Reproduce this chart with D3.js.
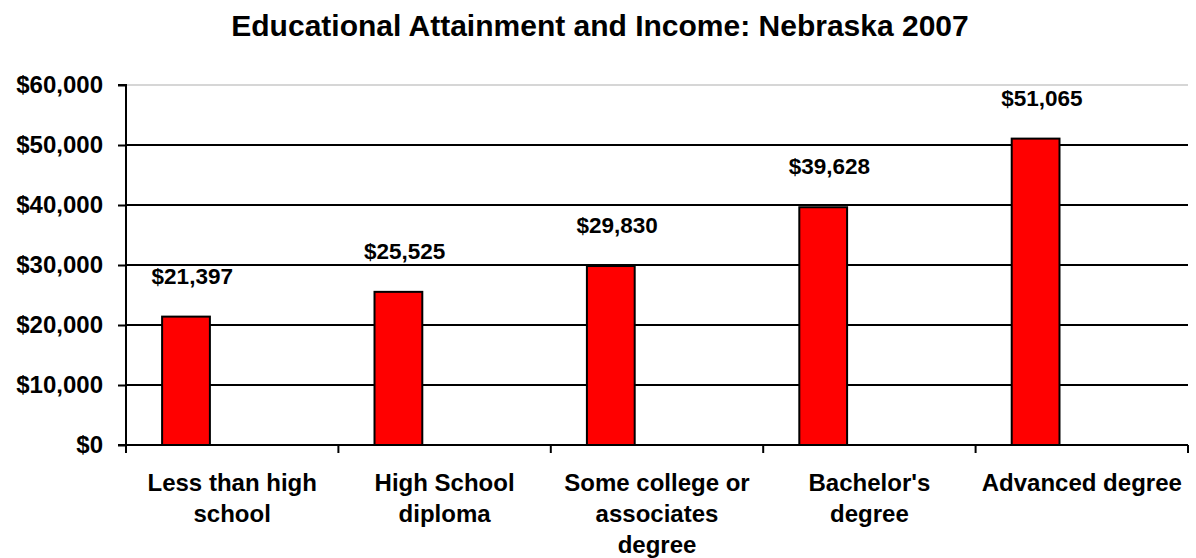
<!DOCTYPE html>
<html>
<head>
<meta charset="utf-8">
<script src="https://cdn.jsdelivr.net/npm/d3@7"></script>
<style>
  body { margin: 0; background: #fff; }
  text { font-family: "Liberation Sans", Arial, sans-serif; font-weight: bold; }
</style>
</head>
<body>
<svg id="chart" width="1196" height="558"></svg>
<script>
// data
let categories = [
    ["Less than high", "school"],
    ["High School", "diploma"],
    ["Some college or", "associates", "degree"],
    ["Bachelor's", "degree"],
    ["Advanced degree"]
];
let incomes = [21397, 25525, 29830, 39628, 51065];
let yTicks = [0, 10000, 20000, 30000, 40000, 50000, 60000];

let W = 1196, H = 558;
let margin = {left: 126, right: 8, top: 85, bottom: 113};
let svg = d3.select('#chart');

let x = d3.scaleBand()
    .domain(d3.range(incomes.length))
    .range([margin.left, W - margin.right]);
let y = d3.scaleLinear()
    .domain([0, 60000])
    .range([H - margin.bottom, margin.top]);

let money = d3.format('$,');

// title
svg.append('text')
    .attr('x', 600).attr('y', 36)
    .attr('text-anchor', 'middle')
    .style('font-size', '30px')
    .text('Educational Attainment and Income: Nebraska 2007');

// top border of plot (light)
svg.append('line')
    .attr('x1', margin.left).attr('x2', W - margin.right)
    .attr('y1', y(60000)).attr('y2', y(60000))
    .attr('stroke', '#c8c8c8').attr('stroke-width', 1.5);

// gridlines
svg.append('g').selectAll('line')
    .data(yTicks.filter(d => d > 0 && d < 60000))
    .enter().append('line')
    .attr('x1', margin.left).attr('x2', W - margin.right)
    .attr('y1', d => y(d)).attr('y2', d => y(d))
    .attr('stroke', '#000').attr('stroke-width', 2);

// bars: sit left of band center (excel style offset)
let bw = x.bandwidth();
svg.append('g').selectAll('rect')
    .data(incomes)
    .enter().append('rect')
    .attr('x', (d, i) => x(i) + bw * 0.17)
    .attr('width', bw * 0.225)
    .attr('y', d => y(d))
    .attr('height', d => y(0) - y(d))
    .attr('fill', '#ff0000')
    .attr('stroke', '#000').attr('stroke-width', 2);

// value labels
svg.append('g').selectAll('text')
    .data(incomes)
    .enter().append('text')
    .attr('x', (d, i) => x(i) + bw * 0.312)
    .attr('y', d => y(d) - 33)
    .attr('text-anchor', 'middle')
    .style('font-size', '22.5px')
    .text(d => money(d));

// y axis
let yAxis = d3.axisLeft(y)
    .tickValues(yTicks)
    .tickFormat(money)
    .tickSize(8)
    .tickPadding(15);
let gy = svg.append('g')
    .attr('transform', `translate(${margin.left},0)`)
    .call(yAxis);
gy.select('.domain').attr('stroke-width', 2).attr('d', `M-8,${y(60000)}H0V${y(0)}`);
gy.selectAll('.tick line').attr('stroke-width', 2);
gy.selectAll('text').style('font-size', '24px').attr('fill', '#000');

// x axis
let gx = svg.append('g')
    .attr('transform', `translate(0,${y(0)})`);
gx.append('line')
    .attr('x1', margin.left - 8).attr('x2', W - margin.right)
    .attr('stroke', '#000').attr('stroke-width', 2);
gx.selectAll('line.tk')
    .data(d3.range(incomes.length + 1))
    .enter().append('line')
    .attr('class', 'tk')
    .attr('x1', i => margin.left + i * bw).attr('x2', i => margin.left + i * bw)
    .attr('y1', 0).attr('y2', 8)
    .attr('stroke', '#000').attr('stroke-width', 2);

let labels = gx.selectAll('text.cat')
    .data(categories)
    .enter().append('text')
    .attr('class', 'cat')
    .attr('text-anchor', 'middle')
    .style('font-size', '24px');
labels.selectAll('tspan')
    .data((d, i) => d.map(s => ({s: s, i: i})))
    .enter().append('tspan')
    .attr('x', d => x(d.i) + bw / 2)
    .attr('y', (d, j) => 46 + j * 31)
    .text(d => d.s);
</script>
</body>
</html>
